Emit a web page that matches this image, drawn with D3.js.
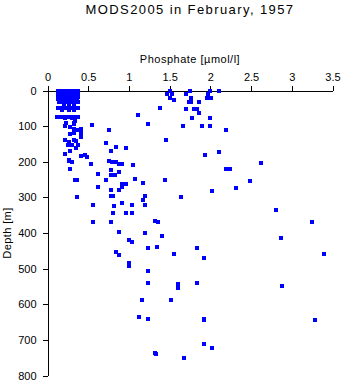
<!DOCTYPE html>
<html>
<head>
<meta charset="utf-8">
<script src="https://cdn.jsdelivr.net/npm/d3@7"></script>
<style>
  html, body { margin: 0; padding: 0; background: #fff; }
  svg { display: block; }
  text { font-family: "Liberation Sans", Arial, Helvetica, sans-serif; fill: #000; }
</style>
</head>
<body>
<script>
// Phosphate profile samples: [phosphate (µmol/l), depth (m)]
const surfaceSamples = [
  [0.13,0],[0.16,0],[0.19,0],[0.22,0],[0.25,0],[0.28,0],[0.31,0],[0.34,0],[0.37,0],[0.38,0],
  [0.13,7],[0.17,7],[0.21,7],[0.24,7],[0.28,7],[0.32,7],[0.36,7],
  [0.14,11],[0.18,11],[0.22,11],[0.26,11],[0.30,11],[0.34,11],[0.37,11],
  [0.13,15],[0.16,15],[0.20,15],[0.23,15],[0.27,15],[0.31,15],[0.35,15],
  [0.14,19],[0.18,19],[0.21,19],[0.25,19],[0.29,19],[0.33,19],[0.37,19],
  [0.13,24],[0.17,24],[0.22,24],[0.26,24],[0.30,24],[0.34,24],
  [0.15,28],[0.19,28],[0.23,28],[0.27,28],[0.31,28],[0.36,28],
  [0.14,33],[0.18,33],[0.22,33],[0.26,33],[0.30,33],[0.34,33],[0.37,33],
  [0.20,37],[0.27,37],[0.33,37],
  [0.13,50],[0.16,50],[0.19,50],[0.22,50],[0.25,50],[0.28,50],[0.31,50],[0.34,50],[0.37,50],
  [0.18,54],[0.26,54],[0.32,54],
  [0.12,74],[0.17,74],[0.20,74],[0.24,74],[0.28,74],[0.31,74],[0.35,74],[0.38,74],
  [0.22,77],[0.30,77],[0.34,85],[0.23,90],[0.32,90]
];

const shallowSamples = [
  [1.50,0],[1.75,0],[2.00,0],[2.11,0],
  [1.47,11],[1.53,11],[1.70,11],[1.97,10],
  [1.51,20],[1.76,21],[1.96,21],[2.01,21],
  [1.55,28],[1.74,31],[1.76,31],[1.86,31],
  [1.38,48],[1.70,52],[1.80,51],[1.83,51],[1.86,62],
  [1.11,69],[1.77,76],[2.00,76],
  [1.24,93],[1.67,100],[1.90,101],[1.99,101],
  [2.19,110],[1.46,138],[2.11,172],[1.94,182],
  [2.62,203],[2.19,220],[2.24,219]
];

const leftColumnSamples = [
  [0.22,100],[0.28,103],[0.33,94],[0.32,107],[0.37,112],[0.41,107],[0.33,120],[0.41,120],[0.41,130],[0.28,122],
  [0.22,140],[0.26,144],[0.32,138],[0.35,141],[0.25,152],[0.30,152],[0.37,153],[0.35,162],[0.28,169],[0.22,178],
  [0.26,195],[0.26,199],[0.30,200],[0.28,219],
  [0.41,183],[0.46,180],[0.48,186],[0.55,96],[0.76,110],
  [0.34,250],[0.36,250],[0.36,300]
];

const midSamples = [
  [0.72,146],[0.84,158],[0.97,160],[0.78,170],
  [0.54,205],[0.76,198],[0.79,200],[0.84,201],[0.88,205],[0.92,207],[1.05,210],
  [0.62,233],[0.78,222],[0.88,228],[0.78,236],[0.83,238],
  [0.72,250],[1.08,249],[1.17,261],[1.44,250],
  [0.92,263],[0.96,263],[0.92,271],
  [0.62,272],[0.78,278],[0.88,278],
  [0.78,296],[0.80,296],[1.20,295],[1.17,308],[1.64,300],
  [0.56,321],[0.82,324],[0.92,317],[1.04,320],[1.20,322],
  [0.80,345],[0.96,345],[1.04,345],
  [0.56,370],[0.78,370],[1.32,367],[1.36,368],
  [0.88,398],[1.20,401],[1.40,409],[1.00,419],[1.04,426],
  [2.02,283],[2.31,275],[2.49,255],[2.81,335],[3.25,368]
];

const deepSamples = [
  [0.84,452],[0.88,463],[1.23,443],[1.35,438],[1.55,460],[1.84,443],[1.92,471],[2.87,413],[3.40,460],
  [1.00,485],[1.00,493],[1.24,507],[1.23,541],[1.60,544],[1.60,555],[1.84,539],[2.88,550],
  [1.16,589],[1.52,589],[1.12,637],[1.23,640],[1.92,640],[1.92,644],[3.29,644],
  [1.92,711],[2.02,723],[1.32,736],[1.33,739],[1.68,751]
];

const phosphateTicks = [0, 0.5, 1, 1.5, 2, 2.5, 3, 3.5];
const depthTicks = [0, 100, 200, 300, 400, 500, 600, 700, 800];

const titleText = "MODS2005 in February, 1957";
const xLabel = "Phosphate [\u00b5mol/l]";
const yLabel = "Depth [m]";

const W = 343, H = 384;
const svg = d3.select("body").append("svg")
  .attr("width", W).attr("height", H);

const x = d3.scaleLinear().domain([0, 3.5]).range([47.5, 332.5]);
const y = d3.scaleLinear().domain([0, 800]).range([90.5, 375.5]);

// top (phosphate) axis
const xAxis = d3.axisTop(x)
  .tickValues(phosphateTicks)
  .tickFormat(d3.format("~g"))
  .tickSize(5).tickSizeOuter(0).tickPadding(5);
const gx = svg.append("g").call(xAxis);

// left (depth) axis
const yAxis = d3.axisLeft(y)
  .tickValues(depthTicks)
  .tickFormat(d3.format("d"))
  .tickSize(5).tickSizeOuter(0).tickPadding(6);
const gy = svg.append("g").call(yAxis);

gx.attr("transform", `translate(0,${y(0)})`);
gy.attr("transform", `translate(${x(0)},0)`);

[gx, gy].forEach(g => {
  g.selectAll("text").style("font-size", "11px").style("font-family", '"Liberation Sans", Arial, sans-serif');
  g.selectAll("line, path").attr("stroke", "#000").attr("stroke-width", 1).attr("shape-rendering", "crispEdges");
});

const samples = [].concat(surfaceSamples, shallowSamples, leftColumnSamples, midSamples, deepSamples);
const ms = 4;
svg.append("g").selectAll("rect").data(samples).join("rect")
  .attr("x", d => Math.round(x(d[0]) - ms / 2))
  .attr("y", d => Math.round(y(d[1]) - ms / 2))
  .attr("width", ms).attr("height", ms)
  .attr("fill", "#0000ff")
  .attr("shape-rendering", "crispEdges");

const cx = (x(0) + x(3.5)) / 2;

svg.append("text")
  .attr("x", cx).attr("y", 14)
  .attr("text-anchor", "middle")
  .style("font-size", "13px").style("letter-spacing", "1.4px")
  .text(titleText);

svg.append("text")
  .attr("x", cx).attr("y", 63)
  .attr("text-anchor", "middle")
  .style("font-size", "11px").style("letter-spacing", "0.5px")
  .text(xLabel);

svg.append("text")
  .attr("transform", `translate(11,${(y(0) + y(800)) / 2}) rotate(-90)`)
  .attr("text-anchor", "middle")
  .style("font-size", "11px").style("letter-spacing", "0.4px")
  .text(yLabel);
</script>
</body>
</html>
